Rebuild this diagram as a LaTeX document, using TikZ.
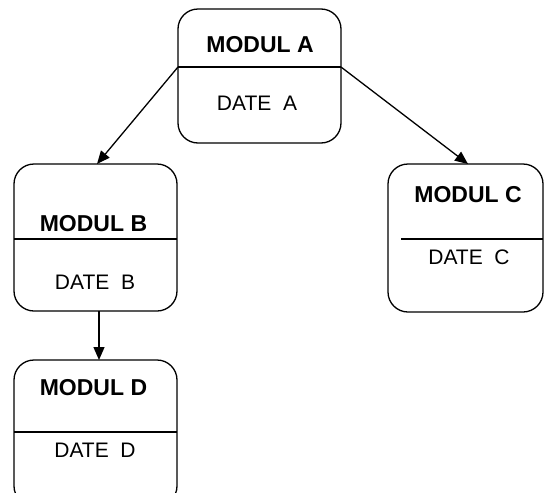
\documentclass[tikz,border=0pt]{standalone}
\usepackage{fontspec}
\setmainfont{Liberation Sans}
\usetikzlibrary{arrows.meta}
\begin{document}
\begin{tikzpicture}[x=1pt,y=-1pt,
  box/.style={draw=black, line width=1.3pt, rounded corners=20pt, inner sep=0pt, outer sep=0pt},
  ttl/.style={font=\fontsize{23}{27}\selectfont\bfseries, inner sep=0pt},
  dat/.style={font=\fontsize{21}{25}\selectfont, inner sep=0pt},
  divl/.style={line width=1.3pt},
  arr/.style={line width=1.3pt, -{Triangle[length=13pt,width=11pt]}}]
\useasboundingbox (0,0) rectangle (544,493);
\clip (0,0) rectangle (544,493);
% boxes
\node[box, minimum width=163pt, minimum height=134pt] (A) at (259.5,76) {};
\node[box, minimum width=163pt, minimum height=147pt] (B) at (95.5,237.5) {};
\node[box, minimum width=155pt, minimum height=148pt] (C) at (465.5,238) {};
\node[box, minimum width=163pt, minimum height=146pt] (D) at (95.5,433) {};
% dividers
\coordinate (Aw) at (178,67); \coordinate (Ae) at (341,67);
\coordinate (Bw) at (14,239); \coordinate (Be) at (177,239);
\coordinate (Cw) at (401,239); \coordinate (Ce) at (543,239);
\coordinate (Dw) at (14,432); \coordinate (De) at (177,432);
\draw[divl] (Aw) -- (Ae);
\draw[divl] (Bw) -- (Be);
\draw[divl] (Cw) -- (Ce);
\draw[divl] (Dw) -- (De);
% texts
\node[ttl] (At) at (260,45) {MODUL A};
\node[dat] (Ad) at (257,103) {DATE\ \ A};
\node[ttl] (Bt) at (93.5,224) {MODUL B};
\node[dat] (Bd) at (95,282) {DATE\ \ B};
\node[ttl] (Ct) at (468,195) {MODUL C};
\node[dat] (Cd) at (469,257) {DATE\ \ C};
\node[ttl] (Dt) at (93.5,388) {MODUL D};
\node[dat] (Dd) at (95,450) {DATE\ \ D};
% connectors
\coordinate (Bn) at (97,164);
\coordinate (Cn) at (468,164);
\coordinate (Bs) at (99,311);
\coordinate (Dn) at (99,360);
\draw[arr] (Aw) -- (Bn);
\draw[arr] (Ae) -- (Cn);
\draw[arr] (Bs) -- (Dn);
\end{tikzpicture}
\end{document}
